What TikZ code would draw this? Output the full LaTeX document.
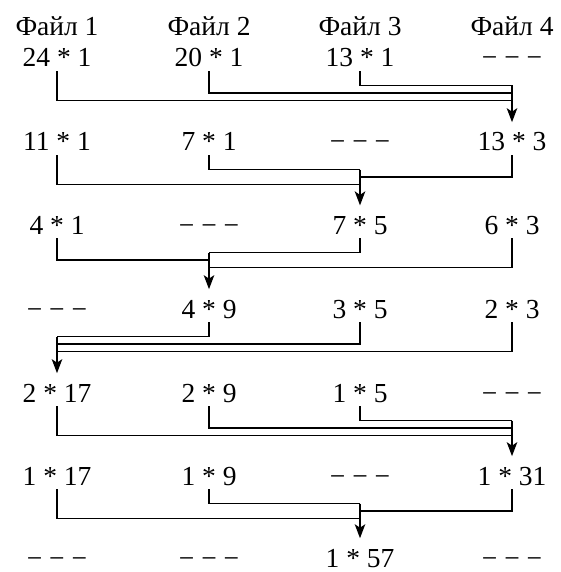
\documentclass[tikz,border=0pt]{standalone}
\usepackage{fontspec}
\setmainfont{Liberation Serif}
\usetikzlibrary{arrows.meta}

\begin{document}
\begin{tikzpicture}[x=1pt,y=-1pt,
  rec/.style={font=\fontsize{27.5}{33}\selectfont,anchor=base,inner sep=1pt},
  link/.style={line width=1.7pt,shorten <=3pt},
  arr/.style={line width=1.7pt,-{Stealth[length=14pt,width=10.5pt,inset=3.5pt]},shorten >=9.4pt}]
  \useasboundingbox (0,0) rectangle (560,572);

  % headers
  \node[rec] (h1) at (57,36) {Файл 1};
  \node[rec] (h2) at (209,36) {Файл 2};
  \node[rec] (h3) at (360,36) {Файл 3};
  \node[rec] (h4) at (512,36) {Файл 4};

  % records
  \node[rec] (r0c1) at (57,67) {24 * 1};
  \node[rec] (r0c2) at (209,67) {20 * 1};
  \node[rec] (r0c3) at (360,67) {13 * 1};
  \node[rec] (r0c4) at (512,67) {− − −};

  \node[rec] (r1c1) at (57,151) {11 * 1};
  \node[rec] (r1c2) at (209,151) {7 * 1};
  \node[rec] (r1c3) at (360,151) {− − −};
  \node[rec] (r1c4) at (512,151) {13 * 3};

  \node[rec] (r2c1) at (57,234) {4 * 1};
  \node[rec] (r2c2) at (209,234) {− − −};
  \node[rec] (r2c3) at (360,234) {7 * 5};
  \node[rec] (r2c4) at (512,234) {6 * 3};

  \node[rec] (r3c1) at (57,318) {− − −};
  \node[rec] (r3c2) at (209,318) {4 * 9};
  \node[rec] (r3c3) at (360,318) {3 * 5};
  \node[rec] (r3c4) at (512,318) {2 * 3};

  \node[rec] (r4c1) at (57,402) {2 * 17};
  \node[rec] (r4c2) at (209,402) {2 * 9};
  \node[rec] (r4c3) at (360,402) {1 * 5};
  \node[rec] (r4c4) at (512,402) {− − −};

  \node[rec] (r5c1) at (57,485) {1 * 17};
  \node[rec] (r5c2) at (209,485) {1 * 9};
  \node[rec] (r5c3) at (360,485) {− − −};
  \node[rec] (r5c4) at (512,485) {1 * 31};

  \node[rec] (r6c1) at (57,567) {− − −};
  \node[rec] (r6c2) at (209,567) {− − −};
  \node[rec] (r6c3) at (360,567) {1 * 57};
  \node[rec] (r6c4) at (512,567) {− − −};

  % pass 1: into file 4
  \coordinate (m0a) at (512,85.5);
  \coordinate (m0b) at (512,93);
  \coordinate (m0c) at (512,100.5);
  \draw[link] (r0c3.south) |- (m0a);
  \draw[link] (r0c2.south) |- (m0b);
  \draw[link] (r0c1.south) |- (m0c);
  \draw[arr] (m0a) -- (r1c4);

  % pass 2: into file 3
  \coordinate (m1a) at (360,169.5);
  \coordinate (m1b) at (360,177);
  \coordinate (m1c) at (360,184.5);
  \draw[link] (r1c2.south) |- (m1a);
  \draw[link] (r1c4.south) |- (m1b);
  \draw[link] (r1c1.south) |- (m1c);
  \draw[arr] (m1a) -- (r2c3);

  % pass 3: into file 2
  \coordinate (m2a) at (209,252.5);
  \coordinate (m2b) at (209,260);
  \coordinate (m2c) at (209,267.5);
  \draw[link] (r2c3.south) |- (m2a);
  \draw[link] (r2c1.south) |- (m2b);
  \draw[link] (r2c4.south) |- (m2c);
  \draw[arr] (m2a) -- (r3c2);

  % pass 4: into file 1
  \coordinate (m3a) at (57,336.5);
  \coordinate (m3b) at (57,344);
  \coordinate (m3c) at (57,351.5);
  \draw[link] (r3c2.south) |- (m3a);
  \draw[link] (r3c3.south) |- (m3b);
  \draw[link] (r3c4.south) |- (m3c);
  \draw[arr] (m3a) -- (r4c1);

  % pass 5: into file 4
  \coordinate (m4a) at (512,420.5);
  \coordinate (m4b) at (512,428);
  \coordinate (m4c) at (512,435.5);
  \draw[link] (r4c3.south) |- (m4a);
  \draw[link] (r4c2.south) |- (m4b);
  \draw[link] (r4c1.south) |- (m4c);
  \draw[arr] (m4a) -- (r5c4);

  % pass 6: into file 3
  \coordinate (m5a) at (360,503.5);
  \coordinate (m5b) at (360,511);
  \coordinate (m5c) at (360,518.5);
  \draw[link] (r5c2.south) |- (m5a);
  \draw[link] (r5c4.south) |- (m5b);
  \draw[link] (r5c1.south) |- (m5c);
  \draw[arr] (m5a) -- (r6c3);
\end{tikzpicture}
\end{document}
